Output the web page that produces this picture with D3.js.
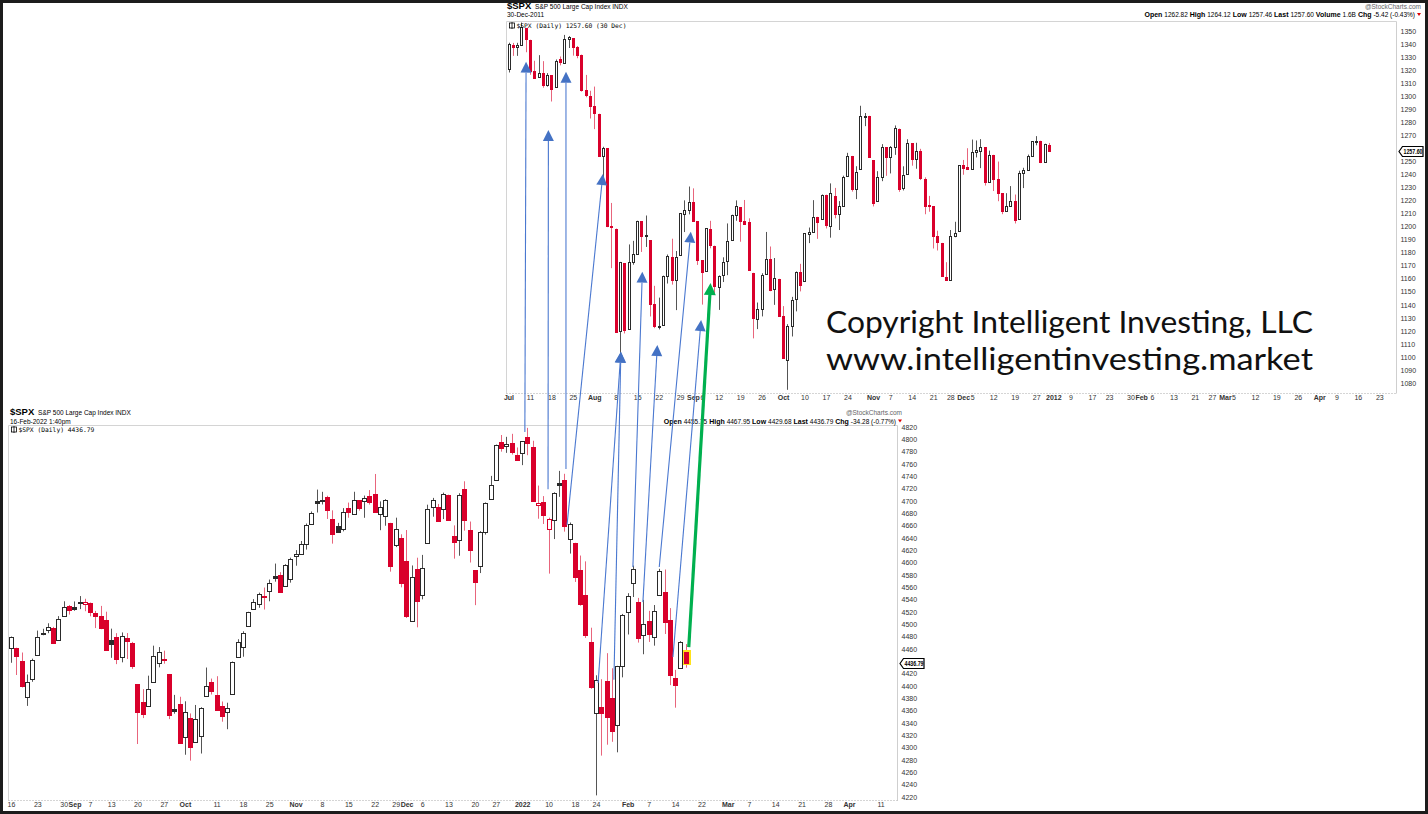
<!DOCTYPE html>
<html><head><meta charset="utf-8">
<script src="https://cdn.jsdelivr.net/npm/d3@7"></script>
<style>body{margin:0;background:#fff}svg{display:block}</style>
</head><body><svg id="c" width="1428" height="814"></svg>
<script>
// ================= DATA =================
// Upper chart: $SPX daily, Jul 1 2011 - Dec 30 2011
const topDates = ["2011-07-01","2011-07-05","2011-07-06","2011-07-07","2011-07-08","2011-07-11","2011-07-12","2011-07-13","2011-07-14","2011-07-15","2011-07-18","2011-07-19","2011-07-20","2011-07-21","2011-07-22","2011-07-25","2011-07-26","2011-07-27","2011-07-28","2011-07-29","2011-08-01","2011-08-02","2011-08-03","2011-08-04","2011-08-05","2011-08-08","2011-08-09","2011-08-10","2011-08-11","2011-08-12","2011-08-15","2011-08-16","2011-08-17","2011-08-18","2011-08-19","2011-08-22","2011-08-23","2011-08-24","2011-08-25","2011-08-26","2011-08-29","2011-08-30","2011-08-31","2011-09-01","2011-09-02","2011-09-06","2011-09-07","2011-09-08","2011-09-09","2011-09-12","2011-09-13","2011-09-14","2011-09-15","2011-09-16","2011-09-19","2011-09-20","2011-09-21","2011-09-22","2011-09-23","2011-09-26","2011-09-27","2011-09-28","2011-09-29","2011-09-30","2011-10-03","2011-10-04","2011-10-05","2011-10-06","2011-10-07","2011-10-10","2011-10-11","2011-10-12","2011-10-13","2011-10-14","2011-10-17","2011-10-18","2011-10-19","2011-10-20","2011-10-21","2011-10-24","2011-10-25","2011-10-26","2011-10-27","2011-10-28","2011-10-31","2011-11-01","2011-11-02","2011-11-03","2011-11-04","2011-11-07","2011-11-08","2011-11-09","2011-11-10","2011-11-11","2011-11-14","2011-11-15","2011-11-16","2011-11-17","2011-11-18","2011-11-21","2011-11-22","2011-11-23","2011-11-25","2011-11-28","2011-11-29","2011-11-30","2011-12-01","2011-12-02","2011-12-05","2011-12-06","2011-12-07","2011-12-08","2011-12-09","2011-12-12","2011-12-13","2011-12-14","2011-12-15","2011-12-16","2011-12-19","2011-12-20","2011-12-21","2011-12-22","2011-12-23","2011-12-27","2011-12-28","2011-12-29","2011-12-30"];
const topOpen  = [1320.64,1339.59,1337.56,1339.62,1352.39,1343.31,1319.61,1314.45,1317.74,1308.87,1315.94,1307.07,1328.66,1325.65,1343.80,1344.32,1337.39,1331.91,1304.84,1300.12,1292.59,1286.56,1254.25,1260.23,1200.28,1198.48,1120.23,1171.77,1121.30,1172.87,1178.86,1204.22,1192.89,1189.62,1140.47,1123.55,1124.36,1162.16,1176.69,1158.85,1177.91,1209.76,1213.00,1219.12,1203.90,1173.97,1165.85,1197.98,1185.37,1153.50,1162.59,1173.32,1189.44,1209.21,1214.99,1204.50,1203.63,1164.55,1128.82,1136.91,1163.32,1175.39,1151.74,1159.93,1131.21,1097.42,1124.03,1144.11,1165.03,1158.15,1194.60,1196.19,1206.96,1205.65,1224.47,1200.75,1223.46,1209.92,1215.39,1238.72,1254.19,1229.17,1243.97,1284.39,1284.96,1251.00,1219.62,1238.25,1260.82,1253.21,1261.12,1275.18,1229.59,1240.12,1263.85,1251.70,1257.81,1236.56,1216.19,1215.62,1192.98,1187.48,1161.41,1158.67,1192.56,1196.72,1246.91,1246.03,1244.33,1257.19,1258.14,1260.87,1234.48,1255.05,1236.83,1225.73,1212.12,1216.09,1219.74,1205.72,1241.25,1243.72,1254.00,1265.02,1265.38,1249.75,1262.82];
const topHigh  = [1341.01,1340.89,1340.94,1356.48,1352.39,1343.31,1327.17,1331.48,1326.88,1317.70,1315.94,1328.14,1330.43,1347.00,1346.10,1344.32,1338.51,1331.91,1316.32,1304.16,1307.38,1286.56,1261.20,1260.23,1218.11,1198.48,1172.88,1171.77,1186.29,1189.04,1204.49,1204.22,1208.47,1189.62,1154.54,1145.49,1162.35,1178.56,1190.68,1181.23,1210.28,1220.10,1230.71,1229.29,1203.90,1173.97,1198.62,1204.40,1185.37,1162.52,1176.41,1202.38,1209.11,1220.06,1214.99,1220.39,1206.30,1164.55,1141.72,1164.19,1195.86,1184.71,1175.87,1159.93,1138.99,1125.12,1146.07,1165.55,1171.40,1194.91,1199.24,1220.25,1207.46,1224.61,1224.47,1233.10,1229.64,1219.53,1239.03,1256.55,1254.19,1246.28,1292.66,1287.08,1284.96,1251.00,1242.48,1263.21,1260.82,1261.70,1277.55,1275.18,1246.22,1266.98,1263.85,1264.25,1259.61,1237.73,1223.51,1215.62,1196.81,1187.48,1172.66,1197.35,1203.67,1247.11,1251.09,1260.08,1266.73,1266.03,1267.06,1260.87,1258.25,1255.05,1249.86,1225.73,1225.60,1231.04,1224.57,1242.82,1245.09,1255.22,1265.42,1269.37,1265.85,1263.54,1264.12];
const topLow   = [1318.18,1330.92,1330.92,1339.62,1333.71,1316.42,1313.33,1314.45,1306.51,1307.35,1295.92,1307.07,1323.65,1325.65,1336.95,1331.09,1329.10,1303.49,1299.16,1282.86,1274.73,1254.03,1234.56,1199.54,1168.09,1119.28,1101.54,1118.01,1121.30,1170.74,1178.86,1180.53,1184.36,1131.03,1122.05,1121.09,1124.36,1156.30,1155.47,1135.91,1177.91,1195.77,1209.35,1203.85,1170.56,1140.13,1165.85,1183.34,1148.37,1136.07,1157.44,1162.73,1189.44,1204.46,1188.36,1201.29,1166.21,1114.22,1121.36,1131.07,1163.32,1150.40,1139.93,1131.34,1098.92,1074.77,1115.68,1134.95,1150.26,1158.15,1187.30,1196.19,1190.58,1205.65,1198.55,1191.48,1206.31,1197.34,1215.39,1238.72,1226.79,1221.06,1243.97,1277.01,1253.16,1215.42,1219.62,1234.81,1238.92,1240.75,1254.99,1226.64,1227.70,1240.12,1246.68,1244.34,1235.67,1209.43,1211.36,1183.16,1181.65,1161.79,1158.66,1158.67,1191.80,1196.72,1239.73,1243.35,1244.33,1253.03,1244.80,1231.47,1234.48,1227.25,1219.43,1209.47,1212.12,1215.20,1202.37,1205.72,1229.51,1243.72,1254.00,1262.30,1248.64,1249.75,1257.46];
const topClose = [1339.67,1337.88,1339.22,1353.22,1343.80,1319.49,1313.64,1317.72,1308.87,1316.14,1305.44,1326.73,1325.84,1343.80,1345.02,1337.43,1331.94,1304.89,1300.67,1292.28,1286.94,1254.05,1260.34,1200.07,1199.38,1119.46,1172.53,1120.76,1172.64,1178.81,1204.49,1192.76,1193.89,1140.65,1123.53,1123.82,1162.35,1177.60,1159.27,1176.80,1210.08,1212.92,1218.89,1204.42,1173.97,1165.24,1198.62,1185.90,1154.23,1162.27,1172.87,1188.68,1209.11,1216.01,1204.09,1202.09,1166.76,1129.56,1136.43,1162.95,1175.38,1151.06,1160.40,1131.42,1099.23,1123.95,1144.03,1164.97,1155.46,1194.89,1195.54,1207.25,1203.66,1224.58,1200.86,1225.38,1209.88,1215.39,1238.25,1254.19,1229.05,1242.00,1284.59,1285.09,1253.30,1218.28,1237.90,1261.15,1253.23,1261.12,1275.92,1229.10,1239.70,1263.85,1251.78,1257.81,1236.91,1216.13,1215.65,1192.98,1188.04,1161.79,1158.67,1192.55,1195.19,1246.96,1244.58,1244.28,1257.08,1258.47,1261.01,1234.35,1255.19,1236.47,1225.73,1211.82,1215.75,1219.66,1205.35,1241.30,1243.72,1254.00,1265.33,1265.43,1249.64,1263.02,1257.60];
const topPrevClose = 1320.64;

// Lower chart: $SPX daily, Aug 16 2021 - Feb 16 2022
const botDates = ["2021-08-16","2021-08-17","2021-08-18","2021-08-19","2021-08-20","2021-08-23","2021-08-24","2021-08-25","2021-08-26","2021-08-27","2021-08-30","2021-08-31","2021-09-01","2021-09-02","2021-09-03","2021-09-07","2021-09-08","2021-09-09","2021-09-10","2021-09-13","2021-09-14","2021-09-15","2021-09-16","2021-09-17","2021-09-20","2021-09-21","2021-09-22","2021-09-23","2021-09-24","2021-09-27","2021-09-28","2021-09-29","2021-09-30","2021-10-01","2021-10-04","2021-10-05","2021-10-06","2021-10-07","2021-10-08","2021-10-11","2021-10-12","2021-10-13","2021-10-14","2021-10-15","2021-10-18","2021-10-19","2021-10-20","2021-10-21","2021-10-22","2021-10-25","2021-10-26","2021-10-27","2021-10-28","2021-10-29","2021-11-01","2021-11-02","2021-11-03","2021-11-04","2021-11-05","2021-11-08","2021-11-09","2021-11-10","2021-11-11","2021-11-12","2021-11-15","2021-11-16","2021-11-17","2021-11-18","2021-11-19","2021-11-22","2021-11-23","2021-11-24","2021-11-26","2021-11-29","2021-11-30","2021-12-01","2021-12-02","2021-12-03","2021-12-06","2021-12-07","2021-12-08","2021-12-09","2021-12-10","2021-12-13","2021-12-14","2021-12-15","2021-12-16","2021-12-17","2021-12-20","2021-12-21","2021-12-22","2021-12-23","2021-12-27","2021-12-28","2021-12-29","2021-12-30","2021-12-31","2022-01-03","2022-01-04","2022-01-05","2022-01-06","2022-01-07","2022-01-10","2022-01-11","2022-01-12","2022-01-13","2022-01-14","2022-01-18","2022-01-19","2022-01-20","2022-01-21","2022-01-24","2022-01-25","2022-01-26","2022-01-27","2022-01-28","2022-01-31","2022-02-01","2022-02-02","2022-02-03","2022-02-04","2022-02-07","2022-02-08","2022-02-09","2022-02-10","2022-02-11","2022-02-14","2022-02-15","2022-02-16"];
const botOpen  = [4461.65,4462.12,4440.94,4382.44,4410.56,4450.29,4484.40,4490.45,4493.75,4474.10,4513.76,4529.75,4528.80,4534.48,4532.42,4535.38,4518.09,4513.02,4506.92,4474.81,4479.33,4447.49,4477.09,4469.74,4402.95,4374.45,4367.43,4406.75,4438.04,4442.12,4419.54,4362.41,4370.67,4317.16,4348.84,4309.87,4319.57,4383.73,4406.51,4385.44,4368.31,4358.01,4386.75,4447.69,4463.72,4497.34,4524.42,4532.24,4546.12,4553.69,4578.69,4580.22,4562.84,4572.87,4610.62,4613.34,4630.65,4662.93,4699.26,4701.48,4707.25,4670.26,4659.39,4655.24,4689.30,4679.42,4701.50,4700.72,4708.44,4712.00,4678.48,4675.78,4664.63,4628.75,4640.25,4602.82,4504.73,4589.49,4548.37,4631.97,4690.86,4691.00,4687.64,4710.30,4642.99,4636.46,4719.13,4652.50,4587.90,4594.96,4650.36,4703.96,4733.99,4795.49,4788.64,4794.23,4775.21,4778.14,4804.51,4787.99,4693.39,4697.66,4655.34,4669.14,4728.59,4733.56,4637.99,4632.24,4588.03,4547.35,4471.38,4356.32,4366.64,4408.43,4380.58,4336.19,4431.79,4519.57,4566.39,4535.41,4482.79,4505.75,4480.02,4547.00,4553.24,4506.27,4412.61,4429.28,4455.75];
const botHigh  = [4480.26,4462.12,4454.32,4418.61,4444.35,4489.88,4492.81,4501.71,4495.90,4513.33,4537.36,4531.39,4537.11,4545.85,4541.45,4535.38,4521.79,4529.90,4520.47,4492.99,4485.68,4486.87,4485.87,4471.52,4402.95,4394.87,4416.75,4465.40,4463.12,4457.30,4419.54,4385.57,4382.55,4375.19,4355.51,4369.23,4365.57,4429.97,4412.02,4415.88,4374.89,4372.87,4439.73,4475.82,4488.75,4520.40,4540.87,4551.44,4559.67,4572.62,4598.53,4584.57,4597.55,4608.08,4620.34,4635.15,4663.46,4683.00,4718.50,4714.92,4708.53,4684.85,4664.55,4688.47,4697.42,4714.95,4701.50,4708.80,4717.75,4743.83,4699.39,4702.87,4664.63,4672.95,4646.02,4652.94,4595.46,4608.03,4612.60,4694.04,4705.06,4695.26,4713.57,4710.30,4660.47,4712.60,4731.99,4666.70,4587.90,4651.14,4697.67,4740.74,4791.49,4807.02,4804.06,4808.93,4786.83,4796.64,4818.62,4797.70,4725.01,4707.95,4673.02,4714.13,4748.83,4744.13,4665.13,4632.24,4611.55,4602.11,4494.52,4417.35,4411.01,4453.23,4428.74,4432.72,4516.89,4550.49,4595.31,4542.88,4539.66,4521.86,4531.32,4590.03,4588.92,4526.33,4426.22,4472.77,4467.95];
const botLow   = [4437.66,4417.83,4397.59,4367.73,4406.80,4450.29,4482.28,4485.66,4468.99,4474.10,4513.76,4515.80,4522.02,4524.66,4521.30,4513.00,4493.95,4492.07,4457.66,4445.70,4435.46,4438.37,4443.80,4427.76,4305.91,4347.96,4367.43,4406.75,4430.27,4436.19,4346.33,4355.08,4306.24,4288.52,4278.94,4309.87,4290.49,4383.73,4386.22,4360.59,4342.09,4329.92,4386.75,4447.69,4447.47,4496.41,4524.40,4526.89,4524.00,4537.36,4569.17,4551.66,4562.84,4567.59,4595.06,4613.34,4621.19,4662.59,4681.32,4694.39,4670.87,4630.86,4648.31,4650.77,4672.86,4679.42,4684.41,4672.78,4694.22,4682.17,4652.66,4659.89,4585.43,4625.26,4560.00,4510.27,4504.73,4495.12,4540.51,4631.97,4674.52,4665.98,4670.64,4667.60,4606.52,4611.22,4651.89,4600.22,4531.10,4583.16,4645.53,4703.96,4733.99,4780.04,4778.08,4775.33,4765.75,4758.17,4774.27,4699.44,4671.26,4662.74,4582.24,4638.27,4706.71,4650.29,4614.75,4568.70,4530.20,4477.95,4395.34,4222.62,4287.11,4304.80,4309.50,4292.46,4414.02,4483.53,4544.32,4470.39,4451.50,4471.47,4465.40,4547.00,4484.31,4401.41,4364.84,4429.28,4429.68];
const botClose = [4479.71,4448.08,4400.27,4405.80,4441.67,4479.53,4486.23,4496.19,4470.00,4509.37,4528.79,4522.68,4524.09,4536.95,4535.43,4520.03,4514.07,4493.28,4458.58,4468.73,4443.05,4480.70,4473.75,4432.99,4357.73,4354.19,4395.64,4448.98,4455.48,4443.11,4352.63,4359.46,4307.54,4357.04,4300.46,4345.72,4363.55,4399.76,4391.34,4361.19,4350.65,4363.80,4438.26,4471.37,4486.46,4519.63,4536.19,4549.78,4544.90,4566.48,4574.79,4551.68,4596.42,4605.38,4613.67,4630.65,4660.57,4680.06,4697.53,4701.70,4685.25,4646.71,4649.27,4682.85,4682.80,4700.90,4688.67,4704.54,4697.96,4682.94,4690.70,4701.46,4594.62,4655.27,4567.00,4513.04,4577.10,4538.43,4591.67,4686.75,4701.21,4667.45,4712.02,4668.97,4634.09,4709.85,4668.67,4620.64,4568.02,4649.23,4696.56,4725.79,4791.19,4786.35,4793.06,4778.73,4766.18,4796.56,4793.54,4700.58,4696.05,4677.03,4670.29,4713.07,4726.35,4659.03,4662.85,4577.11,4532.76,4482.73,4397.94,4410.13,4356.45,4349.93,4326.51,4431.85,4515.55,4546.54,4589.38,4477.44,4500.53,4483.87,4521.54,4587.18,4504.08,4418.64,4401.67,4471.07,4436.79];
const botPrevClose = 4468.00;

// Axis tick labels
const topYTicks = [1350,1340,1330,1320,1310,1300,1290,1280,1270,1260,1250,1240,1230,1220,1210,1200,1190,1180,1170,1160,1150,1140,1130,1120,1110,1100,1090,1080];
const botYTicks = [4820,4800,4780,4760,4740,4720,4700,4680,4660,4640,4620,4600,4580,4560,4540,4520,4500,4480,4460,4440,4420,4400,4380,4360,4340,4320,4300,4280,4260,4240,4220];
// x tick labels with their trading-day index (future dates included)
const topXLabels = ["Jul","11","18","25","Aug","8","15","22","29","Sep","6","12","19","26","Oct","10","17","24","Nov","7","14","21","28","Dec","5","12","19","27","2012","9","17","23","30","Feb","6","13","21","27","Mar","5","12","19","26","Apr","9","16","23"];
const topXIndex  = [0,5,10,15,20,25,30,35,40,43,45,49,54,59,64,69,74,79,85,89,94,99,103,106,108,113,118,123,127,131,136,140,145,147,150,155,160,164,167,169,174,179,184,189,193,198,203];
const botXLabels = ["16","23","30","Sep","7","13","20","27","Oct","11","18","25","Nov","8","15","22","29","Dec","6","13","20","27","2022","10","18","24","Feb","7","14","22","Mar","7","14","21","28","Apr","11"];
const botXIndex  = [0,5,10,12,15,19,24,29,33,39,44,49,54,59,64,69,73,74,78,83,88,92,97,102,107,111,117,121,126,131,136,140,145,150,155,159,165];
const boldLabels = ["Jul","Aug","Sep","Oct","Nov","Dec","2012","2022","Feb","Mar","Apr"];

// Analog arrows: from lower chart point (index, price) to upper chart point (index, price)
const arrowFromIdx   = [97.5,101.9,105.3,105.5,111.4,114.4,118.0,119.9,123.0,125.6,128.6];
const arrowFromPrice = [4812,4719,4752,4661,4405,4410,4593,4536,4593,4447,4463];
const arrowToIdx     = [4.1,9.3,13.4,22.0,26.2,26.2,31.2,34.7,42.5,44.9,47.1];
const arrowToPrice   = [1326.5,1274.1,1318.8,1240.3,1104.0,1104.0,1165.4,1109.1,1196.1,1128.3,1156.7];
const arrowKind      = ["blue","blue","blue","blue","blue","blue","blue","blue","blue","blue","green"];

// ================= DRAW =================
(function(){
const svg = d3.select("#c");
svg.append("rect").attr("width",1428).attr("height",814).attr("fill","#fff");

const RED = "#d9002b", RED_WICK = "#e8657c", BLK = "#2a2a2a", BLK_WICK = "#555";
const FONT = "'Liberation Sans', Arial, sans-serif";

function drawPanel(o) {
  const g = svg.append("g");
  const x = d3.scaleLinear().domain(o.xDomain).range(o.xRange);
  const y = d3.scaleLinear().domain(o.yDomain).range(o.yRange);
  const f = o.frame;
  const last = o.close[o.close.length-1];
  g.append("line").attr("x1",f[0]).attr("x2",f[2]).attr("y1",f[1]).attr("y2",f[1]).attr("stroke","#d4d4d4");
  g.append("line").attr("x1",f[0]).attr("x2",f[0]).attr("y1",f[1]).attr("y2",f[3]).attr("stroke","#d4d4d4");
  g.append("line").attr("x1",f[2]).attr("x2",f[2]).attr("y1",f[1]).attr("y2",f[3]).attr("stroke","#cfcfcf");
  g.append("line").attr("x1",f[0]).attr("x2",f[2]).attr("y1",f[3]).attr("y2",f[3]).attr("stroke","#aaa").attr("stroke-dasharray","1,2");

  const yAxis = d3.axisRight(y).tickValues(o.yTicks).tickSize(0).tickPadding(0).tickFormat(d3.format("d"));
  const ya = g.append("g").attr("transform",`translate(${f[2]+4},0)`).call(yAxis);
  ya.select(".domain").remove();
  ya.selectAll("text").attr("font-family",FONT).attr("font-size",7).attr("fill","#333")
    .style("display", d => Math.abs(y(d)-y(last)) < 7 ? "none" : null);

  const xAxis = d3.axisBottom(x).tickValues(o.xIndex).tickSize(0).tickPadding(0)
      .tickFormat((d,i)=>o.xLabels[i]);
  const xa = g.append("g").attr("transform",`translate(0,${f[3]+2})`).call(xAxis);
  xa.select(".domain").remove();
  xa.selectAll("text").attr("font-family",FONT).attr("font-size",7).attr("fill","#333")
    .attr("font-weight",(d,i)=>boldLabels.includes(o.xLabels[i])?"bold":"normal");
  // nudge labels right so neighbours do not overlap
  let prevRight = -Infinity;
  xa.selectAll(".tick").each(function(d){
    const t = d3.select(this).select("text");
    const w = t.node().getComputedTextLength();
    const left = x(d) - w/2;
    let shift = 0;
    if (left < prevRight + 0.5) shift = prevRight + 0.5 - left;
    t.attr("dx", shift);
    prevRight = left + shift + w;
  });

  const data = o.open.map((op,i)=>{
    const pc = i ? o.close[i-1] : o.prev;
    const c = o.close[i];
    return {i, o:op, h:o.high[i], l:o.low[i], c, up: c>=pc, hollow: c>=op};
  });
  const cg = g.append("g");
  const cx = d => Math.round(x(d.i));
  cg.selectAll("line.w").data(data).join("line").attr("class","w")
    .attr("x1",d=>cx(d)+0.5).attr("x2",d=>cx(d)+0.5)
    .attr("y1",d=>y(d.h)).attr("y2",d=>y(d.l))
    .attr("stroke",d=>d.up?BLK_WICK:RED_WICK).attr("stroke-width",1);
  if (o.highlightLast) {
    const d = data[data.length-1];
    const t = Math.round(y(Math.max(d.o,d.c))), b = Math.round(y(Math.min(d.o,d.c)));
    cg.append("rect").attr("x",cx(d)-o.halfW-2).attr("y",t-2).attr("width",2*o.halfW+5).attr("height",b-t+4)
      .attr("fill","#ffe21a");
  }
  cg.selectAll("rect.b").data(data).join("rect").attr("class","b")
    .attr("x",d=>cx(d)-o.halfW+0.5)
    .attr("y",d=>Math.round(y(Math.max(d.o,d.c)))+0.5)
    .attr("width",2*o.halfW)
    .attr("height",d=>Math.max(1,Math.round(y(Math.min(d.o,d.c)))-Math.round(y(Math.max(d.o,d.c)))))
    .attr("fill",d=>d.hollow?"#fff":(d.up?BLK:RED))
    .attr("stroke",d=>d.up?BLK:RED).attr("stroke-width",1);

  const ty = Math.round(y(last))+0.5;
  const tx = f[2]+2.5;
  g.append("path").attr("d",`M${tx},${ty} L${tx+3.5},${ty-5} H${tx+24} V${ty+5} H${tx+3.5} Z`)
    .attr("fill","#fff").attr("stroke","#000").attr("stroke-width",1.2);
  g.append("text").attr("x",tx+14).attr("y",ty+2.5).attr("text-anchor","middle")
    .attr("font-family",FONT).attr("font-size",7).attr("font-weight","bold").attr("fill","#000")
    .attr("textLength",19).attr("lengthAdjust","spacingAndGlyphs")
    .text(d3.format(".2f")(last));

  const hx = o.headerX, hy = o.headerY;
  const t1 = g.append("text").attr("x",hx).attr("y",hy).attr("font-family",FONT).attr("fill","#000");
  t1.append("tspan").attr("font-size",9.5).attr("font-weight","bold").text("$SPX");
  t1.append("tspan").attr("font-size",6.5).attr("dx",2).text(" S&P 500 Large Cap Index  INDX");
  g.append("text").attr("x",hx).attr("y",hy+8.5).attr("font-family",FONT).attr("font-size",6.5).attr("fill","#000").text(o.dateText);
  g.append("text").attr("x",o.headerR).attr("y",hy).attr("text-anchor","end").attr("font-family",FONT).attr("font-size",6.5).attr("fill","#666").text("@StockCharts.com");
  const t2 = g.append("text").attr("x",o.headerR-6).attr("y",hy+8.5).attr("text-anchor","end").attr("font-family",FONT).attr("font-size",6.5).attr("fill","#000");
  o.quote.forEach((q,i)=>{
    t2.append("tspan").attr("font-weight","bold").attr("font-size",7).text((i?"  ":"")+q[0]+" ");
    t2.append("tspan").text(q[1]);
  });
  g.append("path").attr("d",`M${o.headerR-4},${hy+4.5} h4 l-2,3 z`).attr("fill","#d00");
  const lg = g.append("g").attr("transform",`translate(${f[0]+3},${f[1]+6.5})`);
  lg.append("rect").attr("x",0).attr("y",-5).attr("width",5).attr("height",5).attr("fill","#fff").attr("stroke","#000").attr("stroke-width",0.8);
  lg.append("line").attr("x1",2.5).attr("x2",2.5).attr("y1",-6).attr("y2",1).attr("stroke","#000").attr("stroke-width",0.8);
  lg.append("text").attr("x",7).attr("y",0).attr("font-family","'DejaVu Sans Mono', monospace").attr("font-size",6.3).attr("fill","#000").text(o.legend);
  return {x,y};
}

const botP = drawPanel({
  xDomain:[0,128], xRange:[11,685.6], yDomain:[4820,4220], yRange:[427,797],
  frame:[8.5,425.5,897.5,800.5], yTicks:botYTicks, xIndex:botXIndex, xLabels:botXLabels,
  open:botOpen, high:botHigh, low:botLow, close:botClose, prev:botPrevClose, halfW:2,
  highlightLast:true, headerX:10, headerY:415, headerR:902, dateText:"16-Feb-2022 1:40pm",
  quote:[["Open","4455.75"],["High","4467.95"],["Low","4429.68"],["Last","4436.79"],["Chg","-34.28 (-0.77%)"]],
  legend:"$SPX (Daily) 4436.79"
});
const topP = drawPanel({
  xDomain:[0,126], xRange:[508.5,1049], yDomain:[1350,1080], yRange:[31,383],
  frame:[506.5,21.5,1396.5,393.5], yTicks:topYTicks, xIndex:topXIndex, xLabels:topXLabels,
  open:topOpen, high:topHigh, low:topLow, close:topClose, prev:topPrevClose, halfW:1,
  highlightLast:false, headerX:507, headerY:8.5, headerR:1421, dateText:"30-Dec-2011",
  quote:[["Open","1262.82"],["High","1264.12"],["Low","1257.46"],["Last","1257.60"],["Volume","1.6B"],["Chg","-5.42 (-0.43%)"]],
  legend:"$SPX (Daily) 1257.60 (30 Dec)"
});

const ag = svg.append("g");
arrowFromIdx.forEach((fi,k)=>{
  const x1 = botP.x(fi), y1 = botP.y(arrowFromPrice[k]);
  const x2 = topP.x(arrowToIdx[k]), y2 = topP.y(arrowToPrice[k]);
  const green = arrowKind[k]==="green";
  const col = green ? "#00b04f" : "#4a78d0";
  const ang = Math.atan2(y2-y1, x2-x1);
  const L = green?12:11, W = green?6:5.5;
  const bx = x2 - L*Math.cos(ang), by = y2 - L*Math.sin(ang);
  ag.append("line").attr("x1",x1).attr("y1",y1).attr("x2",bx).attr("y2",by)
    .attr("stroke",col).attr("stroke-width",green?3.2:1.1);
  const px = -Math.sin(ang), py = Math.cos(ang);
  ag.append("path").attr("d",`M${x2},${y2} L${bx+W*px},${by+W*py} L${bx-W*px},${by-W*py} Z`)
    .attr("fill", green ? "#00b04f" : "#4472c4");
});

const ct = svg.append("g").attr("font-family","Lato, 'Open Sans', sans-serif").attr("fill","#111");
ct.append("text").attr("x",826).attr("y",333).attr("font-size",30).attr("textLength",487).attr("lengthAdjust","spacingAndGlyphs").text("Copyright Intelligent Investing, LLC");
ct.append("text").attr("x",826).attr("y",370).attr("font-size",30).attr("textLength",487).attr("lengthAdjust","spacingAndGlyphs").text("www.intelligentinvesting.market");

svg.append("rect").attr("x",1.5).attr("y",1.5).attr("width",1425).attr("height",811).attr("fill","none").attr("stroke","#1c1c1c").attr("stroke-width",3);
})();
</script></body></html>
